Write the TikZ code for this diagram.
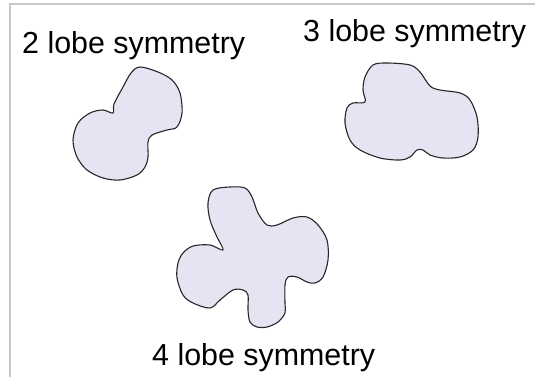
\documentclass[tikz,border=0pt]{standalone}
\usepackage{fontspec}
\setmainfont{Liberation Sans}
\definecolor{lobefill}{RGB}{228,228,242}
\definecolor{framegray}{RGB}{200,200,200}
\usetikzlibrary{positioning}

\begin{document}
\begin{tikzpicture}[x=1pt, y=-1pt,
        lobe/.style={draw=black!85, fill=lobefill, line width=1.1pt,
                     line join=round},
        caption/.style={anchor=base west, inner sep=0pt,
                        font=\fontsize{30.4}{32}\selectfont},
        frame/.style={draw=framegray, line width=1.2pt}
      ]
      \useasboundingbox (0,0) rectangle (535,377);
      \coordinate (fo) at (10,377);
      \coordinate (fc) at (10,4);
      \coordinate (fe) at (535,4);
      \draw[frame] (fo) -- (fc) -- (fe);

      % 2 lobes
      \draw[lobe] plot[smooth cycle, tension=0.55] coordinates {
        (140,67) (158,72) (172,80) (180,93) (182,113) (177,127) (167,130)
        (152,135) (148,142) (148,157) (145,167) (137,175) (120,180)
        (103,178) (87,170) (77,157) (73,140) (78,123) (90,113) (103,110)
        (113,113) (114,104) (123,87) (131,73)};

      % 3 lobes
      \draw[lobe] plot[smooth cycle, tension=0.55] coordinates {
        (373,65) (387,63) (410,65) (420,72) (430,86) (440,90) (460,93)
        (470,100) (477,117) (478,137) (473,150) (460,157) (443,158)
        (430,155) (423,150) (417,150) (410,157) (400,160) (380,158)
        (360,150) (350,140) (345,123) (347,108) (353,103) (365,102)
        (363,90) (365,77)};

      % 4 lobes
      \draw[lobe] plot[smooth cycle, tension=0.55] coordinates {
        (213,190) (230,187) (245,188) (252,197) (258,213) (267,225)
        (277,225) (293,218) (307,217) (318,225) (327,240) (328,260)
        (323,277) (315,283) (307,282) (297,277) (288,277) (285,285)
        (285,303) (285,313) (278,322) (267,327) (257,327) (250,322)
        (248,310) (248,295) (243,290) (233,290) (220,300) (210,308)
        (193,303) (183,295) (177,278) (178,263) (183,253) (193,246)
        (210,245) (223,250) (217,237) (210,220) (208,203)};

      \node[caption] (two)   at (22,54)  {2 lobe symmetry};
      \node[caption] (three) at (303,42) {3 lobe symmetry};
      \node[caption] (four)  at (152,365) {4 lobe symmetry};
    \end{tikzpicture}
\end{document}
